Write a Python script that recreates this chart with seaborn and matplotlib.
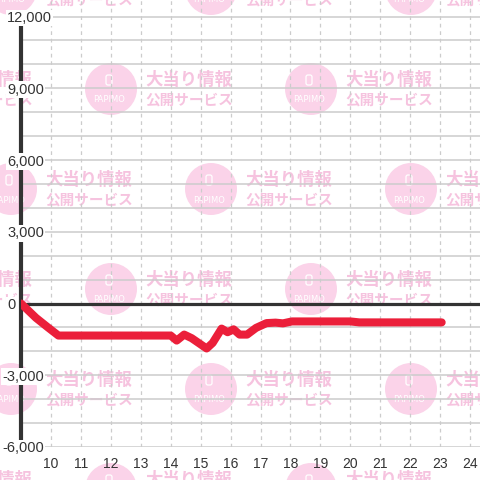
import matplotlib
matplotlib.use("Agg")
import matplotlib.pyplot as plt
from matplotlib.patches import Circle, FancyBboxPatch
import seaborn as sns
import pandas as pd

# slump data (hour -> difference)
hours = [9.0, 9.5, 9.9, 10.25, 14.0, 14.2, 14.45, 14.7, 15.2, 15.4, 15.7, 15.9,
         16.1, 16.3, 16.55, 16.85, 17.2, 17.5, 17.75, 18.05, 20.0, 20.3, 23.05]
diff = [0, -600, -1000, -1340, -1340, -1550, -1300, -1450, -1880, -1650, -1050, -1200,
        -1080, -1300, -1300, -1020, -820, -800, -830, -750, -750, -790, -790]

x_ticks = list(range(10, 25))
y_ticks = [-6000, -3000, 0, 3000, 6000, 9000, 12000]
y_grid = list(range(-6000, 12001, 1000))

line_color = '#eb1f3a'
dark = '#333333'
grid_color = '#cccccc'
pink_circle = '#fbd3e9'
pink_text = '#f6c3df'

sns.set_style('white')
plt.rcParams['font.family'] = ['Liberation Sans', 'DejaVu Sans']

fig = plt.figure(figsize=(4.8, 4.8), dpi=100)
W = 480.0

# watermark tiles (behind the chart)
def watermark(cx, cy):
    fx, fy = cx / W, 1 - cy / W
    fig.add_artist(Circle((fx, fy), 26 / W, transform=fig.transFigure,
                          facecolor=pink_circle, edgecolor='none', zorder=-2))
    fig.add_artist(FancyBboxPatch(((cx - 5) / W, 1 - (cy - 4) / W), 6 / W, 10 / W,
                                  boxstyle='round,pad=0,rounding_size=0.004',
                                  transform=fig.transFigure, facecolor='none',
                                  edgecolor='white', lw=0.9, zorder=-1))
    fig.text((cx - 2) / W, 1 - (cy + 11) / W, 'PAPIMO', color='white', fontsize=6,
             ha='center', va='center', zorder=-1, family=['DejaVu Sans'])
    fig.text((cx + 34) / W, 1 - (cy - 9) / W, '大当り情報', color=pink_text,
             fontsize=12.5, fontweight='bold', ha='left', va='center', zorder=-1,
             family=['Noto Sans CJK JP', 'DejaVu Sans'])
    fig.text((cx + 34) / W, 1 - (cy + 11) / W, '公開サービス', color=pink_text,
             fontsize=10.5, fontweight='bold', ha='left', va='center', zorder=-1,
             family=['Noto Sans CJK JP', 'DejaVu Sans'])

for j in range(-1, 4):
    for i in range(-1, 3):
        watermark(111 + 200 * i, 89 + 200 * j)
        watermark(11 + 200 * i, 189 + 200 * j)

ax = fig.add_axes([21 / W, 33 / W, (W - 21) / W, 447 / W])
ax.set_facecolor('none')

df = pd.DataFrame({'hour': hours, 'diff': diff})

# grid
for g in y_grid:
    ax.axhline(g, color=grid_color, lw=1.1, zorder=0.8)
ax.set_xticks(x_ticks)
ax.xaxis.grid(True, color=grid_color, linestyle=(0, (3, 3)), lw=0.9)
ax.xaxis.set_zorder(0.7)

ax.axhline(0, color=dark, lw=2.3, zorder=2)
sns.lineplot(data=df, x='hour', y='diff', color=line_color, linewidth=5.8,
             estimator=None, ax=ax, zorder=3)

ax.set_xlim(9, 24.33)
ax.set_ylim(-6000, 12690)
ax.set_yticks(y_ticks)
ax.set_yticklabels([f'{v:,}' for v in y_ticks], ha='left')
ax.set_xlabel('')
ax.set_ylabel('')

for s in ['top', 'right', 'bottom']:
    ax.spines[s].set_visible(False)
ax.spines['left'].set_color(dark)
ax.spines['left'].set_linewidth(3)
ax.spines['left'].set_bounds(-6000, 12000)
ax.spines['left'].set_zorder(1.4)
ax.yaxis.set_zorder(1.5)

ax.tick_params(axis='x', length=0, pad=7, labelsize=10, labelcolor=dark)
ax.tick_params(axis='y', length=0, labelsize=10.5, labelcolor=dark)
for t, v in zip(ax.yaxis.get_major_ticks(), y_ticks):
    t.set_pad(13.7 if v < 0 else 10.1)
for lab in ax.get_yticklabels():
    lab.set_bbox(dict(facecolor='white', edgecolor='none', pad=1))

fig.savefig('out.png', dpi=100)
